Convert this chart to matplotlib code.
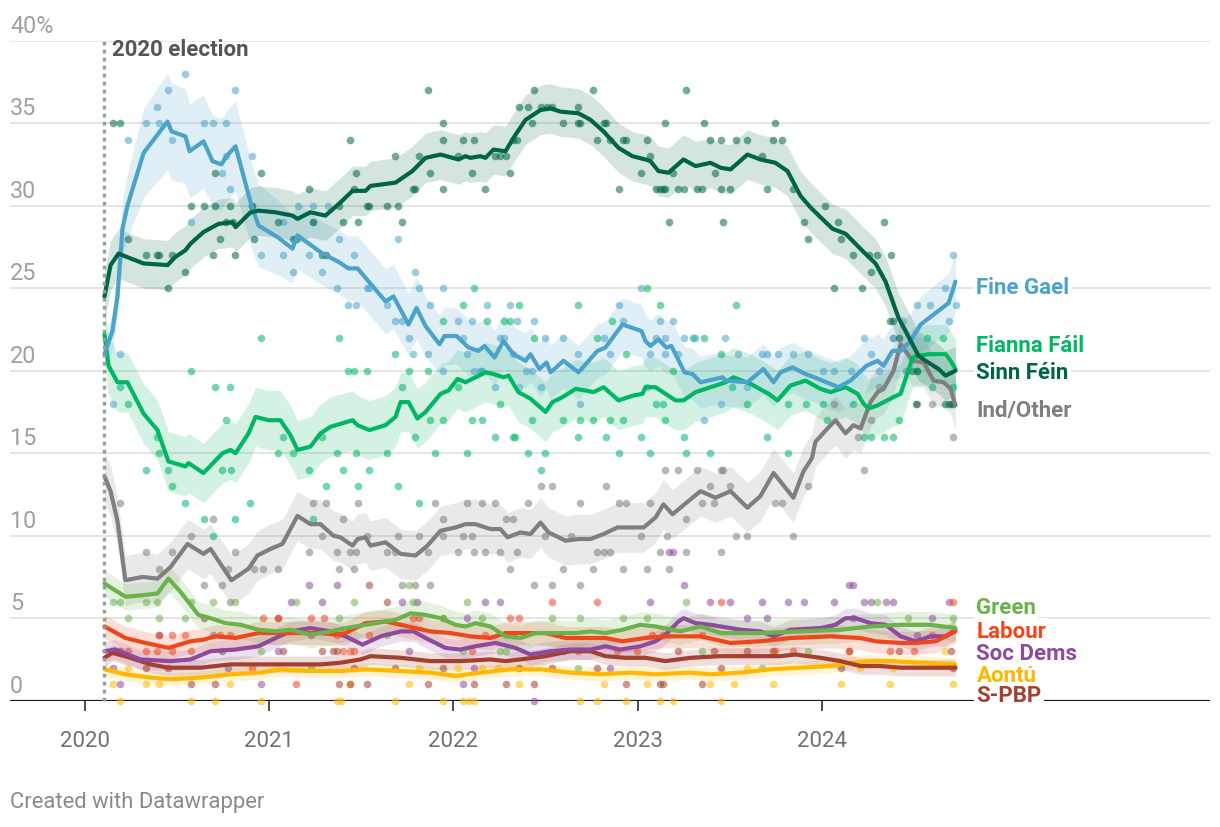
import numpy as np
import matplotlib
matplotlib.use("Agg")
import matplotlib.pyplot as plt

plt.rcParams['font.family'] = ['Roboto', 'DejaVu Sans']

# ---------------- data (time = years since 1 Jan 2020, value = %) ----------------
BASE_YEAR = 2020.0
# the time values below were read on a 185.4-units-per-year grid; the true
# year length on the chart is 184.2 of those units, so they are rescaled once.
TIME_CAL = 185.4 / 184.2
ELECTION_T = 0.105
YEAR_TICKS = [2020, 2021, 2022, 2023, 2024]
Y_TICKS = [0, 5, 10, 15, 20, 25, 30, 35, 40]

fine_gael_trend = [(0.105,21.0),(0.148,22.4),(0.175,24.5),(0.202,28.6),(0.229,30.0),(0.316,33.2),(0.445,35.1),(0.467,34.5),(0.542,34.2),(0.564,33.3),(0.639,33.9),(0.688,32.7),(0.736,32.5),(0.763,33.0),(0.812,33.6),(0.898,30.0),(0.936,28.8),(1.038,28.1),(1.119,27.4),(1.146,28.2),(1.281,27.1),(1.367,26.6),(1.421,26.2),(1.470,26.2),(1.621,24.2),(1.664,24.5),(1.745,22.8),(1.788,23.8),(1.837,22.7),(1.912,21.6),(1.939,22.1),(2.004,22.1),(2.069,21.4),(2.122,21.2),(2.155,21.5),(2.209,20.8),(2.257,21.8),(2.311,21.0),(2.376,20.6),(2.403,21.0),(2.451,20.1),(2.489,20.5),(2.511,19.9),(2.581,20.6),(2.662,19.9),(2.764,21.2),(2.807,21.4),(2.899,22.8),(3.002,22.4),(3.023,21.8),(3.050,21.5),(3.093,21.9),(3.136,21.4),(3.163,21.5),(3.234,19.9),(3.277,19.8),(3.320,19.3),(3.401,19.5),(3.439,19.6),(3.455,19.4),(3.573,19.3),(3.659,20.1),(3.714,19.3),(3.751,19.9),(3.816,20.2),(3.886,19.8),(3.956,19.5),(4.064,19.0),(4.129,19.4),(4.215,20.3),(4.275,20.6),(4.307,20.3),(4.355,21.2),(4.399,21.2),(4.453,21.8),(4.507,22.8),(4.588,23.5),(4.658,24.1),(4.695,25.4)]

sinn_fein_trend = [(0.105,24.5),(0.138,26.4),(0.181,27.1),(0.224,26.9),(0.316,26.5),(0.445,26.4),(0.488,26.9),(0.542,27.3),(0.569,27.7),(0.639,28.4),(0.720,28.9),(0.796,29.0),(0.812,28.7),(0.893,29.6),(0.936,29.7),(1.028,29.6),(1.119,29.4),(1.146,29.2),(1.216,29.6),(1.297,29.4),(1.378,30.2),(1.443,30.9),(1.513,30.9),(1.540,31.2),(1.675,31.4),(1.766,32.1),(1.837,32.9),(1.918,33.1),(2.015,32.8),(2.052,33.0),(2.079,32.9),(2.133,33.0),(2.160,32.9),(2.203,33.4),(2.268,33.3),(2.322,34.3),(2.376,35.2),(2.457,35.8),(2.511,35.9),(2.565,35.7),(2.662,35.6),(2.727,35.2),(2.797,34.5),(2.878,33.5),(2.953,33.0),(3.023,32.8),(3.050,32.7),(3.093,32.1),(3.147,32.0),(3.228,32.8),(3.293,32.4),(3.374,32.6),(3.428,32.3),(3.482,32.2),(3.573,33.1),(3.643,32.8),(3.724,32.6),(3.789,32.1),(3.859,30.6),(3.913,29.9),(3.967,29.3),(4.032,28.6),(4.102,28.3),(4.129,28.0),(4.199,27.2),(4.264,26.5),(4.318,25.4),(4.388,23.2),(4.426,22.4),(4.496,20.9),(4.534,20.6),(4.604,20.1),(4.642,19.7),(4.695,20.0)]

fianna_fail_trend = [(0.105,22.2),(0.127,20.3),(0.175,19.3),(0.229,19.3),(0.316,17.4),(0.391,16.4),(0.450,14.5),(0.542,14.2),(0.558,14.4),(0.639,13.8),(0.742,15.0),(0.785,15.2),(0.812,15.0),(0.882,16.2),(0.920,17.2),(0.990,17.0),(1.054,17.0),(1.108,16.1),(1.146,15.2),(1.216,15.4),(1.270,16.2),(1.324,16.6),(1.443,17.0),(1.470,16.7),(1.534,16.4),(1.621,16.7),(1.675,17.2),(1.702,18.1),(1.745,18.1),(1.793,17.1),(1.837,17.5),(1.918,18.6),(1.961,18.8),(2.009,19.5),(2.052,19.3),(2.106,19.6),(2.160,19.9),(2.203,19.8),(2.257,19.6),(2.284,19.7),(2.338,18.7),(2.403,18.3),(2.484,17.5),(2.522,18.1),(2.576,18.4),(2.646,18.9),(2.700,18.8),(2.743,18.7),(2.797,19.0),(2.878,18.2),(2.959,18.5),(3.007,18.6),(3.023,19.0),(3.077,19.0),(3.131,18.6),(3.185,18.2),(3.228,18.2),(3.293,18.7),(3.374,19.0),(3.455,19.3),(3.498,19.6),(3.590,19.2),(3.687,18.6),(3.735,18.2),(3.805,19.1),(3.886,19.4),(3.967,18.9),(4.021,18.7),(4.102,19.0),(4.167,18.6),(4.199,18.0),(4.226,17.7),(4.275,17.9),(4.361,18.4),(4.399,18.6),(4.464,20.8),(4.491,20.9),(4.550,21.0),(4.642,21.0),(4.669,20.6),(4.695,20.1)]

ind_other_trend = [(0.105,13.6),(0.138,12.7),(0.175,10.9),(0.218,7.3),(0.310,7.5),(0.391,7.4),(0.461,8.1),(0.553,9.5),(0.639,8.9),(0.677,9.2),(0.790,7.3),(0.882,8.0),(0.930,8.8),(1.001,9.2),(1.065,9.5),(1.146,11.2),(1.216,10.7),(1.270,10.7),(1.340,10.0),(1.378,9.9),(1.443,9.4),(1.470,9.8),(1.513,9.9),(1.540,9.4),(1.621,9.6),(1.702,8.9),(1.783,8.8),(1.847,9.4),(1.918,10.3),(1.998,10.5),(2.052,10.7),(2.106,10.7),(2.187,10.4),(2.241,10.4),(2.279,9.9),(2.349,10.2),(2.403,10.1),(2.457,10.8),(2.500,10.2),(2.592,9.7),(2.662,9.8),(2.727,9.8),(2.797,10.1),(2.872,10.5),(2.942,10.5),(3.013,10.5),(3.077,11.1),(3.120,11.9),(3.169,11.3),(3.212,11.7),(3.320,12.7),(3.401,12.3),(3.482,12.7),(3.573,11.7),(3.643,12.4),(3.714,13.8),(3.821,12.3),(3.875,13.9),(3.921,14.7),(3.940,15.7),(4.005,16.5),(4.048,17.0),(4.102,16.2),(4.145,16.7),(4.183,16.5),(4.237,18.1),(4.275,18.7),(4.307,18.9),(4.361,20.0),(4.399,21.6),(4.464,20.6),(4.523,20.5),(4.577,19.4),(4.631,19.3),(4.669,18.9),(4.695,17.9)]

green_trend = [(0.105,7.1),(0.218,6.3),(0.316,6.4),(0.391,6.5),(0.450,7.4),(0.515,6.6),(0.612,5.2),(0.677,5.0),(0.758,4.7),(0.839,4.6),(0.936,4.3),(1.028,4.2),(1.108,4.3),(1.216,4.0),(1.324,4.2),(1.405,4.4),(1.513,4.6),(1.621,4.8),(1.675,4.9),(1.756,5.3),(1.837,5.2),(1.918,5.0),(1.998,4.6),(2.052,4.5),(2.106,4.7),(2.187,4.5),(2.268,3.9),(2.349,3.8),(2.430,4.1),(2.538,4.1),(2.646,4.1),(2.727,4.2),(2.807,4.1),(2.899,4.3),(2.996,4.6),(3.077,4.5),(3.212,4.2),(3.320,4.5),(3.428,4.1),(3.643,4.1),(3.859,4.2),(4.075,4.3),(4.237,4.5),(4.399,4.6),(4.561,4.6),(4.695,4.4)]

labour_trend = [(0.105,4.5),(0.218,3.8),(0.326,3.5),(0.450,3.2),(0.569,3.6),(0.639,3.7),(0.704,3.9),(0.812,3.8),(0.936,4.1),(1.054,4.1),(1.162,4.1),(1.270,4.1),(1.351,4.0),(1.405,4.1),(1.513,4.7),(1.621,4.8),(1.702,4.6),(1.783,4.4),(1.863,4.2),(1.971,4.1),(2.079,3.9),(2.187,3.8),(2.268,4.1),(2.376,4.1),(2.484,4.1),(2.592,3.8),(2.700,3.8),(2.807,3.8),(2.899,3.6),(3.023,3.8),(3.131,3.9),(3.212,3.9),(3.320,3.9),(3.482,3.5),(3.643,3.6),(3.805,3.8),(4.021,3.9),(4.183,3.8),(4.264,3.6),(4.399,3.5),(4.480,3.5),(4.588,3.6),(4.695,4.2)]

soc_dems_trend = [(0.105,3.0),(0.164,3.1),(0.299,2.5),(0.461,2.4),(0.569,2.5),(0.677,3.0),(0.812,3.1),(0.936,3.3),(1.028,3.8),(1.108,4.2),(1.216,4.4),(1.324,4.2),(1.405,3.9),(1.497,3.4),(1.594,3.9),(1.702,4.2),(1.772,4.2),(1.837,3.8),(1.944,3.2),(2.025,3.1),(2.106,3.3),(2.214,3.5),(2.322,3.2),(2.403,2.8),(2.511,3.0),(2.619,3.1),(2.727,3.1),(2.807,3.3),(2.888,3.1),(2.996,3.3),(3.077,3.6),(3.131,4.0),(3.201,4.8),(3.228,5.0),(3.293,4.7),(3.374,4.6),(3.428,4.5),(3.536,4.3),(3.643,4.2),(3.714,3.9),(3.805,4.3),(3.967,4.4),(4.048,4.6),(4.102,5.0),(4.156,5.0),(4.237,4.7),(4.318,4.6),(4.399,3.9),(4.480,3.6),(4.561,3.9),(4.642,3.9),(4.695,4.3)]

spbp_trend = [(0.105,2.6),(0.148,2.9),(0.245,2.6),(0.353,2.2),(0.450,2.0),(0.623,2.0),(0.785,2.2),(0.947,2.2),(1.108,2.2),(1.270,2.2),(1.378,2.3),(1.486,2.5),(1.540,2.7),(1.702,2.6),(1.863,2.4),(2.025,2.4),(2.187,2.5),(2.268,2.4),(2.349,2.5),(2.484,2.7),(2.619,3.0),(2.727,3.0),(2.807,2.7),(2.915,2.6),(3.023,2.6),(3.131,2.4),(3.266,2.6),(3.428,2.7),(3.590,2.7),(3.751,2.7),(3.832,2.8),(3.967,2.6),(4.075,2.4),(4.183,2.1),(4.291,2.1),(4.399,2.0),(4.561,2.0),(4.695,2.0)]

aontu_trend = [(0.105,1.9),(0.218,1.6),(0.353,1.4),(0.461,1.3),(0.623,1.4),(0.785,1.6),(0.947,1.7),(1.054,1.9),(1.216,1.8),(1.378,1.8),(1.513,1.9),(1.702,1.8),(1.863,1.7),(1.998,1.5),(2.133,1.7),(2.295,1.9),(2.457,1.9),(2.619,1.7),(2.780,1.6),(2.942,1.7),(3.077,1.6),(3.266,1.7),(3.374,1.6),(3.536,1.7),(3.697,1.9),(3.859,2.0),(4.021,2.1),(4.129,2.3),(4.237,2.4),(4.345,2.4),(4.507,2.3),(4.695,2.2)]

fine_gael_polls = [(0.23,34),(0.33,35),(0.39,36),(0.40,35),(0.45,37),(0.47,34),(0.54,38),(0.57,29),(0.64,35),(0.69,35),(0.74,32),(0.76,35),(0.76,33),(0.78,31),(0.81,37),(0.90,33),(0.90,30),(1.07,29),(1.15,30),(1.23,30),(1.31,30),(1.23,29),(0.15,18),(0.19,21),(0.95,27),(1.07,27),(1.12,26),(1.21,27),(1.28,26),(1.36,25),(1.37,28),(1.45,27),(1.69,28),(1.42,24),(1.46,24),(1.52,25),(1.53,25),(1.63,24),(1.67,23),(1.71,23),(1.78,26),(1.80,25),(1.75,22),(1.77,21),(1.85,21),(1.86,24),(1.93,25),(1.93,20),(2.01,23),(2.04,22),(2.06,21),(2.09,23),(2.10,20),(2.13,20),(2.17,24),(2.21,19),(2.24,22),(2.26,22),(2.29,24),(2.31,21),(2.33,23),(2.34,19),(2.38,20),(2.41,20),(2.42,23),(2.46,19),(2.48,22),(2.58,22),(2.66,21),(2.67,18),(2.80,22),(2.83,21),(2.88,24),(2.90,23),(3.00,25),(3.03,19),(3.05,21),(3.08,22),(3.10,23),(3.13,22),(3.13,21),(3.17,23),(3.23,22),(3.29,22),(3.20,21),(3.45,22),(3.34,17),(3.43,18),(3.52,21),(3.57,19),(3.65,21),(3.68,21),(3.74,21),(3.82,21),(3.90,21),(3.98,20),(4.04,20),(4.13,20),(4.20,22),(4.24,21),(4.28,20),(4.36,22),(4.41,23),(4.49,24),(4.56,24),(4.64,25),(4.66,23),(4.68,27),(4.70,24)]

sinn_fein_polls = [(0.15,35),(0.19,35),(0.70,32),(0.95,32),(0.57,30),(0.64,30),(0.70,30),(0.78,30),(0.90,30),(0.76,29),(0.80,29),(1.04,29),(1.21,31),(1.23,29),(0.73,28),(0.91,28),(1.37,30),(0.23,28),(0.33,27),(0.39,27),(0.40,27),(0.47,27),(0.54,26),(0.45,25),(0.69,27),(0.81,27),(1.12,28),(1.14,28),(1.28,27),(1.30,27),(1.43,34),(1.85,37),(1.93,35),(1.46,32),(1.45,31),(1.67,33),(1.39,29),(1.47,29),(1.52,30),(1.53,30),(1.63,30),(1.69,30),(1.71,29),(1.77,31),(1.78,31),(1.80,33),(1.86,32),(1.93,34),(1.93,31),(2.01,33),(2.04,34),(2.09,32),(2.10,34),(2.16,31),(2.21,33),(2.24,33),(2.27,33),(2.29,32),(2.31,34),(2.33,34),(2.34,36),(2.39,36),(2.41,35),(2.42,37),(2.46,36),(2.49,36),(2.52,36),(2.58,35),(2.66,36),(2.66,35),(2.67,35),(2.74,37),(2.76,34),(2.80,35),(2.81,35),(2.83,34),(2.88,31),(2.90,34),(2.92,34),(3.00,32),(3.03,34),(3.05,33),(3.08,31),(3.10,31),(3.13,35),(3.13,31),(3.15,29),(3.24,37),(3.34,35),(3.37,34),(3.43,34),(3.51,34),(3.57,34),(3.72,35),(3.71,34),(3.76,34),(3.65,33),(3.17,32),(3.40,32),(3.12,31),(3.20,31),(3.23,31),(3.30,31),(3.33,31),(3.43,31),(3.48,31),(3.68,31),(3.82,31),(3.44,29),(3.99,30),(3.88,29),(4.06,29),(4.31,29),(3.90,28),(4.08,28),(4.14,27),(4.23,27),(4.27,27),(4.35,27),(4.24,26),(4.04,25),(4.19,25),(4.34,23),(4.36,23),(4.39,22),(4.46,20),(4.49,20),(4.64,18),(4.66,18),(4.68,18),(4.48,18)]

fianna_fail_polls = [(0.19,19),(0.23,18),(0.57,20),(0.70,19),(0.78,19),(0.76,17),(0.95,22),(1.37,22),(0.39,16),(0.40,15),(1.07,16),(1.04,15),(1.12,15),(1.28,16),(1.36,15),(0.33,14),(0.45,14),(0.74,14),(0.79,14),(0.47,13),(0.54,12),(0.89,12),(0.64,11),(0.81,11),(0.69,10),(1.23,11),(1.30,13),(1.21,14),(2.10,25),(3.03,25),(2.04,24),(2.34,24),(2.66,24),(3.10,24),(1.93,23),(2.17,23),(2.26,23),(2.29,23),(2.84,23),(2.42,22),(2.76,22),(1.67,21),(2.92,21),(1.42,20),(1.45,20),(1.52,20),(1.75,20),(1.85,20),(2.14,20),(1.71,19),(2.01,19),(2.24,18),(3.08,18),(3.12,18),(1.86,17),(1.93,17),(2.09,17),(2.14,17),(2.41,17),(2.58,17),(2.67,17),(2.74,17),(2.83,17),(2.90,17),(3.13,17),(1.78,16),(2.21,16),(2.31,16),(2.32,16),(2.66,16),(2.81,16),(3.00,16),(1.46,15),(1.63,15),(1.89,15),(2.06,15),(2.39,15),(2.48,15),(2.88,15),(3.05,15),(1.39,14),(1.53,14),(2.46,14),(1.47,13),(1.69,13),(1.80,12),(3.51,24),(3.28,22),(3.34,22),(3.43,21),(3.17,20),(3.49,19),(3.57,18),(3.79,18),(3.89,18),(3.98,18),(4.14,18),(3.23,16),(3.68,16),(4.00,17),(4.39,17),(4.20,16),(4.24,16),(4.31,16),(4.36,16),(3.37,15),(3.24,15),(3.79,15),(4.54,22),(4.63,22),(4.49,20),(4.68,19),(4.57,19)]

ind_other_polls = [(0.19,12),(0.33,9),(0.40,8),(0.47,9),(0.57,10),(0.64,7),(0.74,7),(0.77,8),(0.81,9),(0.91,8),(0.96,8),(1.04,8),(1.23,12),(1.30,12),(1.28,10),(1.21,9),(1.37,8),(0.78,6),(0.69,11),(1.39,11),(1.47,12),(1.36,9),(1.43,9),(1.46,9),(1.45,8),(1.52,10),(1.63,9),(1.69,10),(1.67,9),(1.71,7),(1.78,7),(1.80,10),(1.86,7),(1.85,9),(1.89,12),(1.93,11),(1.93,10),(2.01,9),(2.04,10),(2.06,12),(2.09,10),(2.10,9),(2.14,12),(2.16,9),(2.21,12),(2.24,9),(2.27,11),(2.29,8),(2.31,11),(2.33,9),(2.39,12),(2.42,7),(2.46,13),(2.48,10),(2.52,13),(2.52,7),(2.58,8),(2.62,10),(2.67,12),(2.67,7),(2.74,8),(2.76,9),(2.80,9),(2.81,13),(2.83,9),(2.88,12),(2.90,8),(2.92,12),(3.00,10),(3.03,8),(3.05,12),(3.10,9),(3.13,14),(3.14,10),(3.15,8),(3.20,14),(3.30,14),(3.43,14),(3.44,14),(4.20,14),(3.37,13),(3.48,13),(3.33,12),(3.39,12),(3.72,12),(3.76,12),(3.90,13),(3.24,11),(3.51,10),(3.57,10),(3.82,10),(3.24,9),(3.43,9),(4.04,18),(4.57,18),(4.49,18),(4.68,16),(4.17,16),(4.24,17),(4.28,19),(4.36,22),(4.43,20),(4.67,18)]

green_polls = [(0.15,6),(0.19,6),(0.23,5),(0.33,6),(0.39,6),(0.40,5),(0.54,5),(0.57,6),(0.69,6),(0.81,6),(0.95,3),(1.14,6),(1.22,2),(1.45,6),(1.75,7),(1.77,6),(2.06,6),(1.37,5),(1.63,4),(1.93,5),(2.14,5),(2.24,3),(2.27,3),(2.52,5),(2.67,5),(2.90,5),(3.03,5),(2.04,3),(2.66,2),(3.24,6),(4.27,6),(3.33,3),(3.90,3),(3.65,2),(4.68,5),(4.44,5)]

labour_polls = [(0.40,4),(0.47,4),(0.54,4),(0.73,4),(0.78,4),(0.96,5),(1.04,5),(1.22,5),(1.29,5),(0.23,3),(0.33,3),(0.39,3),(0.47,3),(0.57,3),(0.90,2),(1.14,1),(1.36,4),(1.39,3),(1.43,3),(1.45,3),(1.53,4),(1.77,5),(1.80,5),(1.93,5),(2.09,3),(2.16,4),(2.29,5),(2.34,5),(2.52,6),(2.58,3),(2.66,3),(2.76,6),(2.87,3),(2.98,3),(3.06,4),(3.43,6),(4.68,6),(3.12,4),(3.33,4),(3.82,3),(4.12,3),(4.47,3),(4.57,4),(4.34,3),(3.72,3)]

soc_dems_polls = [(0.19,1),(0.15,2),(0.40,4),(0.69,4),(0.77,2),(0.95,1),(1.11,6),(1.21,7),(1.28,6),(1.36,7),(1.04,3),(1.22,4),(1.71,6),(1.79,6),(2.16,6),(2.24,6),(3.05,6),(2.06,5),(1.75,3),(2.04,1),(2.10,2),(2.42,0),(2.83,2),(3.15,9),(3.17,9),(3.23,7),(4.12,7),(4.14,7),(3.37,6),(3.48,6),(3.65,6),(3.79,6),(3.88,6),(4.04,6),(4.20,6),(4.24,6),(4.32,6),(4.36,6),(4.66,6),(3.57,5),(3.68,5),(4.14,5),(4.57,5),(4.49,4)]

spbp_polls = [(0.15,3),(0.19,3),(0.33,2),(0.45,2),(0.57,1),(0.64,5),(0.70,1),(0.74,3),(1.04,5),(1.07,3),(1.28,3),(1.34,3),(1.53,7),(1.63,6),(1.36,3),(1.52,1),(1.37,1),(1.43,1),(1.45,2),(1.67,2),(1.85,1),(1.93,2),(2.10,1),(2.27,1),(2.34,2),(2.42,1),(2.52,2),(2.76,2),(2.92,1),(3.12,1),(2.31,4),(3.20,3),(3.39,3),(3.57,3),(3.71,3),(4.12,3),(4.39,3),(4.67,3),(3.33,1),(3.43,2),(4.08,2),(4.68,2),(3.10,1)]

aontu_polls = [(0.15,1),(0.19,0),(0.33,1),(0.40,1),(0.57,0),(0.70,0),(0.78,1),(0.95,0),(1.22,2),(0.23,2),(1.36,0),(1.38,0),(1.67,0),(1.93,0),(2.04,0),(2.07,0),(2.10,0),(2.67,0),(2.76,0),(2.92,0),(3.10,0),(1.75,1),(2.34,1),(2.80,1),(3.03,1),(1.80,2),(2.01,2),(2.14,2),(2.23,2),(1.43,1),(3.17,0),(3.43,0),(3.37,1),(3.50,1),(3.71,1),(4.08,1),(4.34,1),(4.68,1),(4.64,3),(3.57,2),(4.18,2),(4.36,2)]

# confidence band half-widths (percentage points)
fine_gael_band_t = [0.10, 0.35, 0.85, 1.20, 1.60, 2.00, 4.00, 4.70]
fine_gael_band_w = [0.8, 3.0, 2.7, 1.9, 2.0, 1.7, 1.5, 1.8]
band_halfwidth = {"Sinn Féin": 1.5, "Fianna Fáil": 1.8, "Ind/Other": 1.5, "Green": 0.8,
                  "Labour": 0.7, "Soc Dems": 0.6, "S-PBP": 0.5, "Aontú": 0.4}

# ---------------- styling ----------------
parties = [
    # name, trend, polls, colour, label value position
    ("Ind/Other", ind_other_trend, ind_other_polls, "#7f7f7f", 17.6),
    ("Aontú", aontu_trend, aontu_polls, "#ffb800", 1.57),
    ("S-PBP", spbp_trend, spbp_polls, "#a3402f", 0.36),
    ("Soc Dems", soc_dems_trend, soc_dems_polls, "#8e4a9f", 2.9),
    ("Labour", labour_trend, labour_polls, "#f0461c", 4.2),
    ("Green", green_trend, green_polls, "#6ab24a", 5.65),
    ("Fianna Fáil", fianna_fail_trend, fianna_fail_polls, "#00b764", 21.55),
    ("Fine Gael", fine_gael_trend, fine_gael_polls, "#4ba3cc", 25.1),
    ("Sinn Féin", sinn_fein_trend, sinn_fein_polls, "#006547", 19.95),
]


def to_year(t):
    return BASE_YEAR + np.asarray(t, dtype=float) * TIME_CAL


W, H = 1220, 828
PX_PER_YEAR = 184.2
fig = plt.figure(figsize=(W / 100, H / 100), dpi=100)
ax = fig.add_axes([10 / W, 1 - 701.7 / H, 1200 / W, 660 / H])
x0 = BASE_YEAR - 75 / PX_PER_YEAR
x1 = x0 + 1200 / PX_PER_YEAR
ax.set_xlim(x0, x1)
ax.set_ylim(0, 40)
for s in ax.spines.values():
    s.set_visible(False)

# grid
for v in Y_TICKS[1:]:
    ax.axhline(v, color="#e3e3e3", lw=1.3, zorder=0)
ax.axhline(0, color="#1a1a1a", lw=1.6, zorder=1.5)

# y labels
for v in Y_TICKS:
    lab = f"{v}%" if v == 40 else f"{v}"
    ax.text(x0, v + 0.55, lab, ha="left", va="baseline", fontsize=16.8,
            color="#a0a0a0", zorder=6)

# x ticks
ax.set_xticks(YEAR_TICKS)
ax.set_xticklabels([str(y) for y in YEAR_TICKS])
ax.tick_params(axis="x", length=7, width=1.1, color="#1a1a1a", pad=14,
               labelsize=16, labelcolor="#707070")
ax.set_yticks([])

# bands, dots, lines
for name, trend, polls, col, _ in parties:
    t = to_year([p[0] for p in trend])
    v = np.array([p[1] for p in trend])
    if name == "Fine Gael":
        hw = np.interp([p[0] for p in trend], fine_gael_band_t, fine_gael_band_w)
    else:
        hw = band_halfwidth[name]
    ax.fill_between(t, np.clip(v - hw, 0, None), v + hw, color=col, alpha=0.17,
                    lw=0, zorder=1)

for name, trend, polls, col, _ in parties:
    pt = to_year([p[0] for p in polls])
    pv = np.array([p[1] for p in polls])
    ax.scatter(pt, pv, s=30, color=col, alpha=0.55, lw=0, zorder=2, clip_on=False)

for name, trend, polls, col, _ in parties:
    t = to_year([p[0] for p in trend])
    v = np.array([p[1] for p in trend])
    ax.plot(t, v, color=col, lw=3.0, zorder=3, solid_joinstyle="round",
            solid_capstyle="round")

# election marker
ex = float(to_year(ELECTION_T))
ax.plot([ex, ex], [0, 40], color="#9a9a9a", lw=2.4,
        linestyle=(0, (1.1, 1.3)), zorder=4, clip_on=False)
ax.text(ex + 8 / PX_PER_YEAR, 39.5, "2020 election", ha="left", va="center",
        fontsize=16, fontweight="bold", color="#555555", zorder=6)

# direct labels
label_x = float(to_year(fine_gael_trend[-1][0])) + 21 / PX_PER_YEAR
for name, trend, polls, col, ly in parties:
    ax.text(label_x, ly, name, ha="left", va="center", fontsize=16,
            fontweight="bold", color=col, zorder=7,
            bbox=dict(facecolor="white", edgecolor="none", pad=1.5))

fig.text(10 / W, 1 - 803 / H, "Created with Datawrapper", ha="left", va="center",
         fontsize=15.8, color="#8a8a8a")

fig.savefig("out.png", dpi=100, facecolor="white")
